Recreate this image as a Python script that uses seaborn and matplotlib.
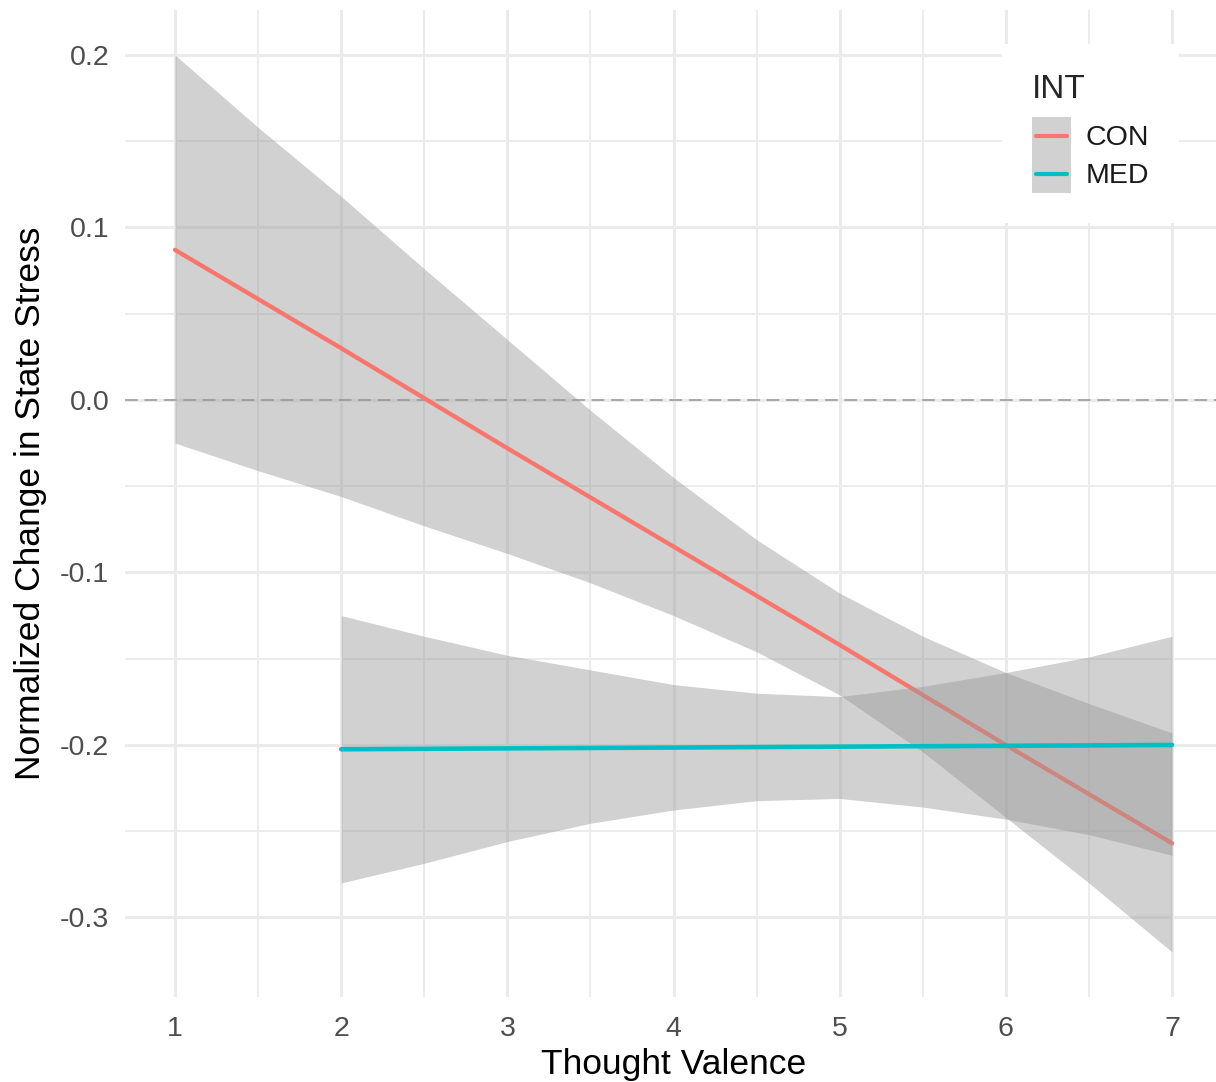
import numpy as np
import pandas as pd
import matplotlib
matplotlib.use("Agg")
import matplotlib.pyplot as plt
import seaborn as sns
from matplotlib.patches import Rectangle
from matplotlib.lines import Line2D
from matplotlib.legend_handler import HandlerBase
from matplotlib.ticker import MultipleLocator

# ---------------- data ----------------
groups = ["CON", "MED"]
colors = {"CON": "#F8766D", "MED": "#00BFC4"}

con_x = [1, 2, 3, 4, 5, 6, 7]
con_fit = [0.087, 0.030, -0.028, -0.085, -0.142, -0.200, -0.257]
con_band_x = [1, 1.5, 2, 2.5, 3, 3.5, 4, 4.5, 5, 5.5, 6, 6.5, 7]
con_upper = [0.200, 0.158, 0.118, 0.076, 0.035, -0.006, -0.045, -0.081, -0.112, -0.137, -0.158, -0.176, -0.193]
con_lower = [-0.025, -0.041, -0.056, -0.073, -0.089, -0.106, -0.125, -0.146, -0.171, -0.204, -0.242, -0.280, -0.320]

med_x = [2, 3, 4, 5, 6, 7]
med_fit = [-0.2025, -0.202, -0.2015, -0.201, -0.2005, -0.200]
med_band_x = [2, 2.5, 3, 3.5, 4, 4.5, 5, 5.5, 6, 6.5, 7]
med_upper = [-0.125, -0.137, -0.148, -0.1565, -0.165, -0.170, -0.172, -0.166, -0.158, -0.149, -0.137]
med_lower = [-0.280, -0.2686, -0.256, -0.2454, -0.2377, -0.2323, -0.231, -0.236, -0.243, -0.252, -0.264]

x_ticks = [1, 2, 3, 4, 5, 6, 7]
y_ticks = [-0.3, -0.2, -0.1, 0.0, 0.1, 0.2]
y_ticklabels = ["-0.3", "-0.2", "-0.1", "0.0", "0.1", "0.2"]

x_label = "Thought Valence"
y_label = "Normalized Change in State Stress"
legend_title = "INT"

# ---------------- figure ----------------
sns.set_theme(style="white")
plt.rcParams["font.family"] = ["Liberation Sans", "DejaVu Sans"]

W, H = 1216, 1082
fig = plt.figure(figsize=(W / 100, H / 100), dpi=100)
fig.patch.set_facecolor("white")

xlim = (0.7, 7.3)
ylim = (-0.346, 0.226)
px_per_x = 166.17
left_px = 175 - (1 - xlim[0]) * px_per_x
width_px = (xlim[1] - xlim[0]) * px_per_x
top_px = 10.1
bottom_px = 996.8
ax = fig.add_axes([left_px / W, (H - bottom_px) / H, width_px / W, (bottom_px - top_px) / H])
ax.set_xlim(*xlim)
ax.set_ylim(*ylim)

for s in ax.spines.values():
    s.set_visible(False)

ax.xaxis.set_major_locator(MultipleLocator(1))
ax.xaxis.set_minor_locator(MultipleLocator(0.5))
ax.yaxis.set_minor_locator(MultipleLocator(0.05))
ax.set_xticks(x_ticks)
ax.set_yticks(y_ticks)
ax.set_yticklabels(y_ticklabels)
ax.grid(which="major", color="#EBEBEB", lw=2.2)
ax.grid(which="minor", color="#EBEBEB", lw=1.3)
ax.set_axisbelow(True)
ax.tick_params(which="both", length=0)
ax.tick_params(axis="x", labelsize=20.5, labelcolor="#4D4D4D", pad=13.5)
ax.tick_params(axis="y", labelsize=20.5, labelcolor="#4D4D4D", pad=11.5)

# reference line at zero
ax.axhline(0, color="#A8A8A8", lw=1.4, dashes=(6.5, 3.5), zorder=1.5)

df_con = pd.DataFrame({"x": con_x, "y": con_fit, "INT": "CON"})
df_med = pd.DataFrame({"x": med_x, "y": med_fit, "INT": "MED"})

ribbon_kw = dict(color="#999999", alpha=0.45, linewidth=0)
ax.fill_between(con_band_x, con_lower, con_upper, zorder=2.0, **ribbon_kw)
sns.lineplot(data=df_con, x="x", y="y", hue="INT", palette=colors, lw=3.1,
             ax=ax, legend=False, zorder=2.1, errorbar=None)
ax.fill_between(med_band_x, med_lower, med_upper, zorder=2.2, **ribbon_kw)
sns.lineplot(data=df_med, x="x", y="y", hue="INT", palette=colors, lw=3.3,
             ax=ax, legend=False, zorder=2.3, errorbar=None)

ax.set_xlabel(x_label, fontsize=25.5, color="black", labelpad=4.5)
ax.set_ylabel(y_label, fontsize=25.5, color="black", labelpad=9.5)


# ---------------- legend ----------------
class RibbonLineHandler(HandlerBase):
    def create_artists(self, legend, orig_handle, xdescent, ydescent,
                       width, height, fontsize, trans):
        rect = Rectangle((-xdescent, -ydescent), width, height,
                         facecolor="#999999", alpha=0.45, edgecolor="none",
                         transform=trans)
        yc = -ydescent + height / 2
        ln = Line2D([-xdescent + 0.1 * width, -xdescent + 0.9 * width], [yc, yc],
                    color=orig_handle.get_color(), lw=3.0, transform=trans)
        return [rect, ln]


handles = [Line2D([], [], color=colors[g]) for g in groups]
leg = ax.legend(handles, groups, title=legend_title,
                handler_map={Line2D: RibbonLineHandler()},
                loc="upper left", bbox_to_anchor=(1002 / W, 1 - 44 / H),
                bbox_transform=fig.transFigure, borderaxespad=0,
                frameon=True, fancybox=False, framealpha=1,
                fontsize=20.5, title_fontsize=24,
                handlelength=1.38, handleheight=1.68, handletextpad=0.5,
                labelspacing=0, borderpad=1.05, alignment="left")
leg._legend_box.sep = 8.5
leg.get_frame().set_facecolor("white")
leg.get_frame().set_edgecolor("none")
leg.set_zorder(5)
for t in leg.get_texts():
    t.set_color("#1A1A1A")

fig.savefig("out.png", dpi=100, facecolor="white")
